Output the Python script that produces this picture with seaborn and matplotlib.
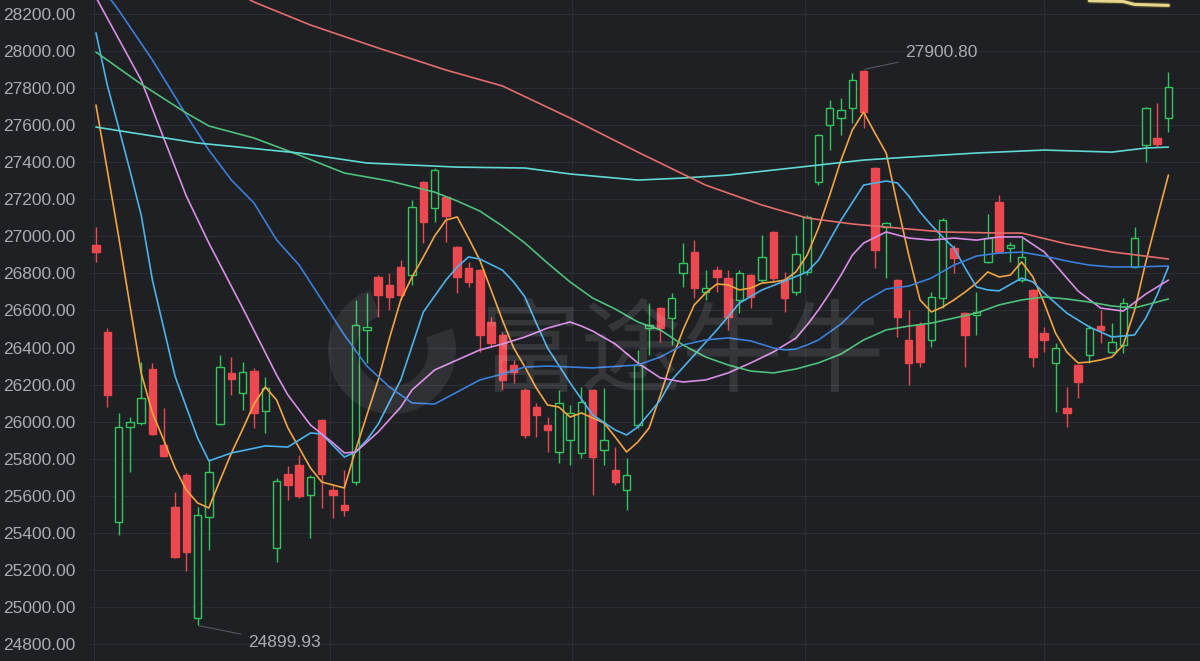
import numpy as np
import pandas as pd
import matplotlib
matplotlib.use("Agg")
import matplotlib.pyplot as plt
import matplotlib.patheffects as pe
from matplotlib.patches import Rectangle, Wedge
import seaborn as sns

# daily candles, oldest -> newest
opens = [26953, 26484, 25458, 25971, 25993, 26284, 25874, 25540, 25712, 24941,
         25486, 25988, 26263, 26155, 26274, 26058, 25318, 25718, 25766, 25604,
         26009, 25631, 25550, 25675, 26495, 26781, 26738, 26835, 26792, 27294,
         27153, 27213, 26943, 26830, 26819, 26538, 26468, 26306, 26171, 26079,
         25982, 25837, 25901, 25831, 26171, 25847, 25739, 25631, 25982, 26506,
         26614, 26560, 26803, 26916, 26700, 26819, 26775, 26657, 26792, 26765,
         27024, 26765, 26700, 26808, 27294, 27601, 27639, 27693, 27895, 27369,
         27051, 26765, 26441, 26522, 26441, 26668, 26937, 26587, 26576, 26862,
         27186, 26937, 26765, 26711, 26479, 26317, 26074, 26306, 26360, 26517,
         26376, 26414, 26835, 27493, 27531, 27639]
highs = [27051, 26506, 26047, 26025, 26322, 26317, 26074, 25621, 25723, 25540,
         25788, 26360, 26349, 26322, 26290, 26241, 25696, 25761, 25820, 25712,
         26015, 25664, 25739, 26657, 26695, 26792, 26803, 26872, 27196, 27300,
         27369, 27220, 26950, 26862, 26825, 26565, 26484, 26333, 26182, 26101,
         26025, 26171, 26090, 26187, 26176, 26182, 25863, 25804, 26387, 26641,
         26620, 26695, 26964, 26980, 26819, 26840, 26819, 26819, 26798, 27008,
         27030, 26808, 27008, 27116, 27552, 27736, 27747, 27880, 27900.80, 27375,
         27078, 26770, 26603, 26538, 26700, 27099, 26953, 26592, 26700, 27121,
         27224, 26970, 26991, 26716, 26511, 26425, 26187, 26312, 26522, 26603,
         26533, 26668, 27051, 27698, 27720, 27890]
lows = [26862, 26079, 25388, 25728, 25982, 25928, 25810, 25264, 25194, 24899.93,
        25308, 25982, 26144, 26063, 25966, 25939, 25243, 25577, 25588, 25372,
        25534, 25480, 25491, 25658, 26317, 26565, 26603, 26657, 26738, 26964,
        27078, 26970, 26695, 26727, 26376, 26403, 26171, 26209, 25912, 25917,
        25837, 25777, 25766, 25804, 25604, 25766, 25658, 25523, 25966, 26360,
        26430, 26414, 26727, 26668, 26657, 26700, 26495, 26587, 26614, 26754,
        26754, 26592, 26684, 26792, 27277, 27466, 27547, 27612, 27585, 26830,
        26775, 26457, 26198, 26295, 26403, 26614, 26803, 26295, 26468, 26857,
        26911, 26862, 26754, 26295, 26376, 26052, 25971, 26128, 26317, 26425,
        26371, 26371, 26830, 27402, 27482, 27564]
closes = [26916, 26144, 25971, 25998, 26128, 25934, 25815, 25270, 25297, 25496,
          25728, 26295, 26230, 26268, 26047, 26182, 25680, 25658, 25599, 25702,
          25718, 25604, 25523, 26522, 26511, 26684, 26673, 26684, 27159, 27078,
          27358, 27110, 26781, 26754, 26468, 26425, 26225, 26268, 25928, 26036,
          25955, 26101, 26047, 26106, 25810, 25901, 25675, 25712, 26306, 26522,
          26506, 26668, 26857, 26722, 26722, 26781, 26565, 26803, 26673, 26889,
          26775, 26668, 26905, 27105, 27547, 27693, 27682, 27844, 27671, 26927,
          27072, 26565, 26317, 26322, 26673, 27088, 26883, 26468, 26592, 26991,
          26916, 26953, 26889, 26349, 26441, 26398, 26047, 26214, 26506, 26495,
          26430, 26641, 26991, 27693, 27499, 27806]

# moving averages (candle index, level)
ma5 = [27709, 27358, 27002, 26630, 26263, 26047, 25901, 25750, 25631, 25561,
       25534, 25685, 25831, 25960, 26095, 26187, 26117, 25966, 25858, 25750,
       25674, 25658, 25642, 25847, 26036, 26225, 26451, 26657, 26781, 26889,
       27002, 27088, 27105, 26991, 26872, 26711, 26549, 26398, 26295, 26182,
       26090, 26079, 26025, 26047, 26020, 25993, 25917, 25836, 25890, 25966,
       26144, 26333, 26495, 26630, 26694, 26743, 26738, 26711, 26721, 26748,
       26754, 26764, 26808, 26899, 27045, 27223, 27412, 27574, 27671, 27558,
       27450, 27169, 26899, 26657, 26592, 26619, 26657, 26700, 26748, 26808,
       26781, 26791, 26862, 26781, 26640, 26478, 26376, 26317, 26322, 26333,
       26349, 26414, 26600, 26862, 27099, 27331]
ma10_idx = [0, 1, 2, 3, 4, 5, 7, 9, 10, 12, 15, 17, 19, 20, 22, 23, 24, 25, 27, 29,
            31, 32, 33, 34, 36, 37, 38, 39, 40, 42, 44, 46, 47, 48, 50, 51, 53, 55,
            57, 59, 61, 63, 64, 66, 68, 70, 71, 72, 73, 74, 75, 76, 77, 78, 79, 80,
            82, 83, 84, 86, 88, 90, 92, 93, 94, 95]
ma10 = [28098, 27817, 27590, 27358, 27116, 26764, 26246, 25912, 25788, 25831,
        25869, 25863, 25939, 25933, 25809, 25836, 25901, 25987, 26225, 26592,
        26764, 26835, 26889, 26878, 26818, 26754, 26673, 26532, 26398, 26209,
        26036, 25955, 25928, 25971, 26117, 26225, 26360, 26495, 26640, 26711,
        26759, 26808, 26872, 27088, 27277, 27299, 27288, 27218, 27131, 27061,
        26997, 26937, 26829, 26727, 26711, 26706, 26775, 26754, 26694, 26586,
        26511, 26457, 26468, 26559, 26684, 26835]
ma20_idx = [0, 4, 8, 10, 13, 16, 17, 19, 21, 22, 23, 25, 27, 28, 30, 32, 34, 36, 38,
            40, 42, 43, 44, 46, 48, 50, 52, 54, 56, 58, 60, 62, 63, 64, 65, 66, 67,
            68, 70, 72, 74, 76, 78, 80, 82, 84, 86, 87, 89, 91, 93, 95]
ma20 = [28290, 27844, 27218, 26964, 26613, 26252, 26144, 25982, 25885, 25831,
        25836, 25944, 26079, 26171, 26279, 26333, 26387, 26419, 26457, 26505,
        26538, 26516, 26489, 26419, 26317, 26236, 26214, 26225, 26263, 26317,
        26376, 26451, 26522, 26603, 26694, 26791, 26899, 26964, 27024, 26991,
        26980, 26991, 26980, 26997, 26997, 26916, 26775, 26705, 26613, 26597,
        26689, 26764]
ma30_idx = [1, 2, 5, 8, 10, 12, 14, 16, 18, 20, 22, 24, 26, 28, 30, 32, 34, 36, 38,
            40, 44, 48, 50, 52, 54, 56, 58, 60, 61, 62, 63, 64, 66, 68, 70, 72, 74,
            76, 78, 80, 82, 84, 86, 88, 90, 92, 95]
ma30 = [28303, 28222, 27952, 27655, 27466, 27304, 27180, 26981, 26845, 26657,
        26468, 26300, 26187, 26101, 26095, 26160, 26225, 26257, 26295, 26300,
        26290, 26306, 26349, 26414, 26441, 26452, 26436, 26398, 26387, 26392,
        26414, 26441, 26527, 26646, 26716, 26732, 26775, 26845, 26894, 26910,
        26915, 26894, 26867, 26845, 26835, 26835, 26840]
ma60_idx = [0, 4, 8, 10, 14, 18, 22, 26, 30, 32, 34, 36, 38, 40, 42, 44, 46, 48, 50,
            52, 54, 56, 58, 60, 62, 64, 66, 68, 70, 72, 74, 76, 78, 80, 82, 84, 86,
            88, 90, 92, 95]
ma60 = [27995, 27822, 27666, 27596, 27531, 27439, 27342, 27299, 27239, 27191,
        27137, 27056, 26964, 26856, 26754, 26667, 26608, 26538, 26495, 26414,
        26349, 26306, 26273, 26263, 26284, 26317, 26365, 26441, 26495, 26516,
        26532, 26559, 26586, 26630, 26657, 26673, 26662, 26646, 26624, 26614,
        26662]
ma120_idx = [0, 9, 18, 24, 32, 38, 42, 48, 52, 56, 60, 64, 68, 72, 78, 84, 90, 93, 95]
ma120 = [27590, 27504, 27450, 27396, 27374, 27369, 27337, 27304, 27315, 27331,
         27358, 27385, 27412, 27428, 27450, 27466, 27455, 27477, 27482]
ma250_idx = [12, 14, 19, 25, 31, 36, 42, 48, 54, 59, 63, 67, 71, 75, 80, 82, 86, 90, 95]
ma250 = [28330, 28265, 28141, 28017, 27898, 27812, 27639, 27455, 27277, 27169,
         27099, 27067, 27045, 27024, 27018, 27018, 26959, 26916, 26878]
top_idx = [88, 91, 92, 95]
top_line = [28272, 28268, 28252, 28247]

y_ticks = list(range(24800, 28201, 200))
month_marks = [-0.2, 20.7, 42.2, 62.8, 84.0]

bg = "#1e2024"
up_col = "#35c45d"
down_col = "#ec4850"
text_col = "#a9acb1"

sns.set_theme(style="dark", rc={"axes.facecolor": bg, "figure.facecolor": bg,
                                "grid.color": "#2a2d32", "grid.linewidth": 0.8})
plt.rcParams["font.family"] = ["Liberation Sans", "DejaVu Sans"]

fig = plt.figure(figsize=(12, 6.61), dpi=100)
ax = fig.add_axes([0.075, 0, 0.925, 1])

# moving averages
ma_frames = [
    pd.DataFrame({"line": "MA5", "idx": range(len(ma5)), "value": ma5}),
    pd.DataFrame({"line": "MA10", "idx": ma10_idx, "value": ma10}),
    pd.DataFrame({"line": "MA20", "idx": ma20_idx, "value": ma20}),
    pd.DataFrame({"line": "MA30", "idx": ma30_idx, "value": ma30}),
    pd.DataFrame({"line": "MA60", "idx": ma60_idx, "value": ma60}),
    pd.DataFrame({"line": "MA120", "idx": ma120_idx, "value": ma120}),
    pd.DataFrame({"line": "MA250", "idx": ma250_idx, "value": ma250}),
]
ma_df = pd.concat(ma_frames, ignore_index=True)
palette = {"MA5": "#f2a541", "MA10": "#4db2ea", "MA20": "#d98ee6", "MA30": "#3b7fd9",
           "MA60": "#4fc07c", "MA120": "#62d8d2", "MA250": "#e46c6c"}
sns.lineplot(data=ma_df, x="idx", y="value", hue="line", palette=palette,
             estimator=None, sort=False, legend=False, linewidth=1.2, ax=ax)
ax.plot(top_idx, top_line, color="#e8d68e", lw=2.2,
        path_effects=[pe.withStroke(linewidth=4, foreground="#4a4226")])
for ln in ax.lines:
    ln.set_zorder(4)

# candles
x = np.arange(len(opens))
w = 0.66
for i in x:
    o, h, l, c = opens[i], highs[i], lows[i], closes[i]
    up = c >= o
    col = up_col if up else down_col
    ax.vlines(i, l, h, color=col, lw=1, zorder=2)
    body = max(abs(c - o), 5)
    ax.add_patch(Rectangle((i - w / 2, min(o, c)), w, body,
                           facecolor=bg if up else col, edgecolor=col,
                           lw=1, zorder=3))

# extreme labels
ax.annotate("27900.80", xy=(68, 27900.8), xytext=(71.7, 27990), ha="left",
            va="center", fontsize=12.5, color=text_col,
            arrowprops=dict(arrowstyle="-", color="#55585e", lw=0.8,
                            shrinkA=3, shrinkB=1))
ax.annotate("24899.93", xy=(9, 24899.93), xytext=(13.5, 24806), ha="left",
            va="center", fontsize=12.5, color=text_col,
            arrowprops=dict(arrowstyle="-", color="#55585e", lw=0.8,
                            shrinkA=3, shrinkB=1))

# watermark
fig.text(0.40, 0.463, "富途牛牛", fontsize=73, color="white", alpha=0.1,
         family=["Noto Sans CJK SC", "DejaVu Sans"], ha="left", va="center")
fig.patches.append(Wedge((3.92, 3.11), 0.64, 110, 20, width=0.28,
                         transform=fig.dpi_scale_trans, facecolor="white",
                         alpha=0.08, edgecolor="none"))

ax.set_xlim(-0.53, 97.8)
ax.set_ylim(24708, 28276)
ax.set_yticks(y_ticks)
ax.set_yticklabels([f"{v:.2f}" for v in y_ticks])
ax.set_xticks(month_marks)
ax.set_xticklabels([])
ax.tick_params(axis="y", length=0, pad=10.8, labelsize=12.5, labelcolor=text_col)
ax.tick_params(axis="x", length=0)
ax.grid(True, axis="both")
ax.set_xlabel("")
ax.set_ylabel("")
for s in ax.spines.values():
    s.set_visible(False)

fig.savefig("out.png", dpi=100, facecolor=bg)
